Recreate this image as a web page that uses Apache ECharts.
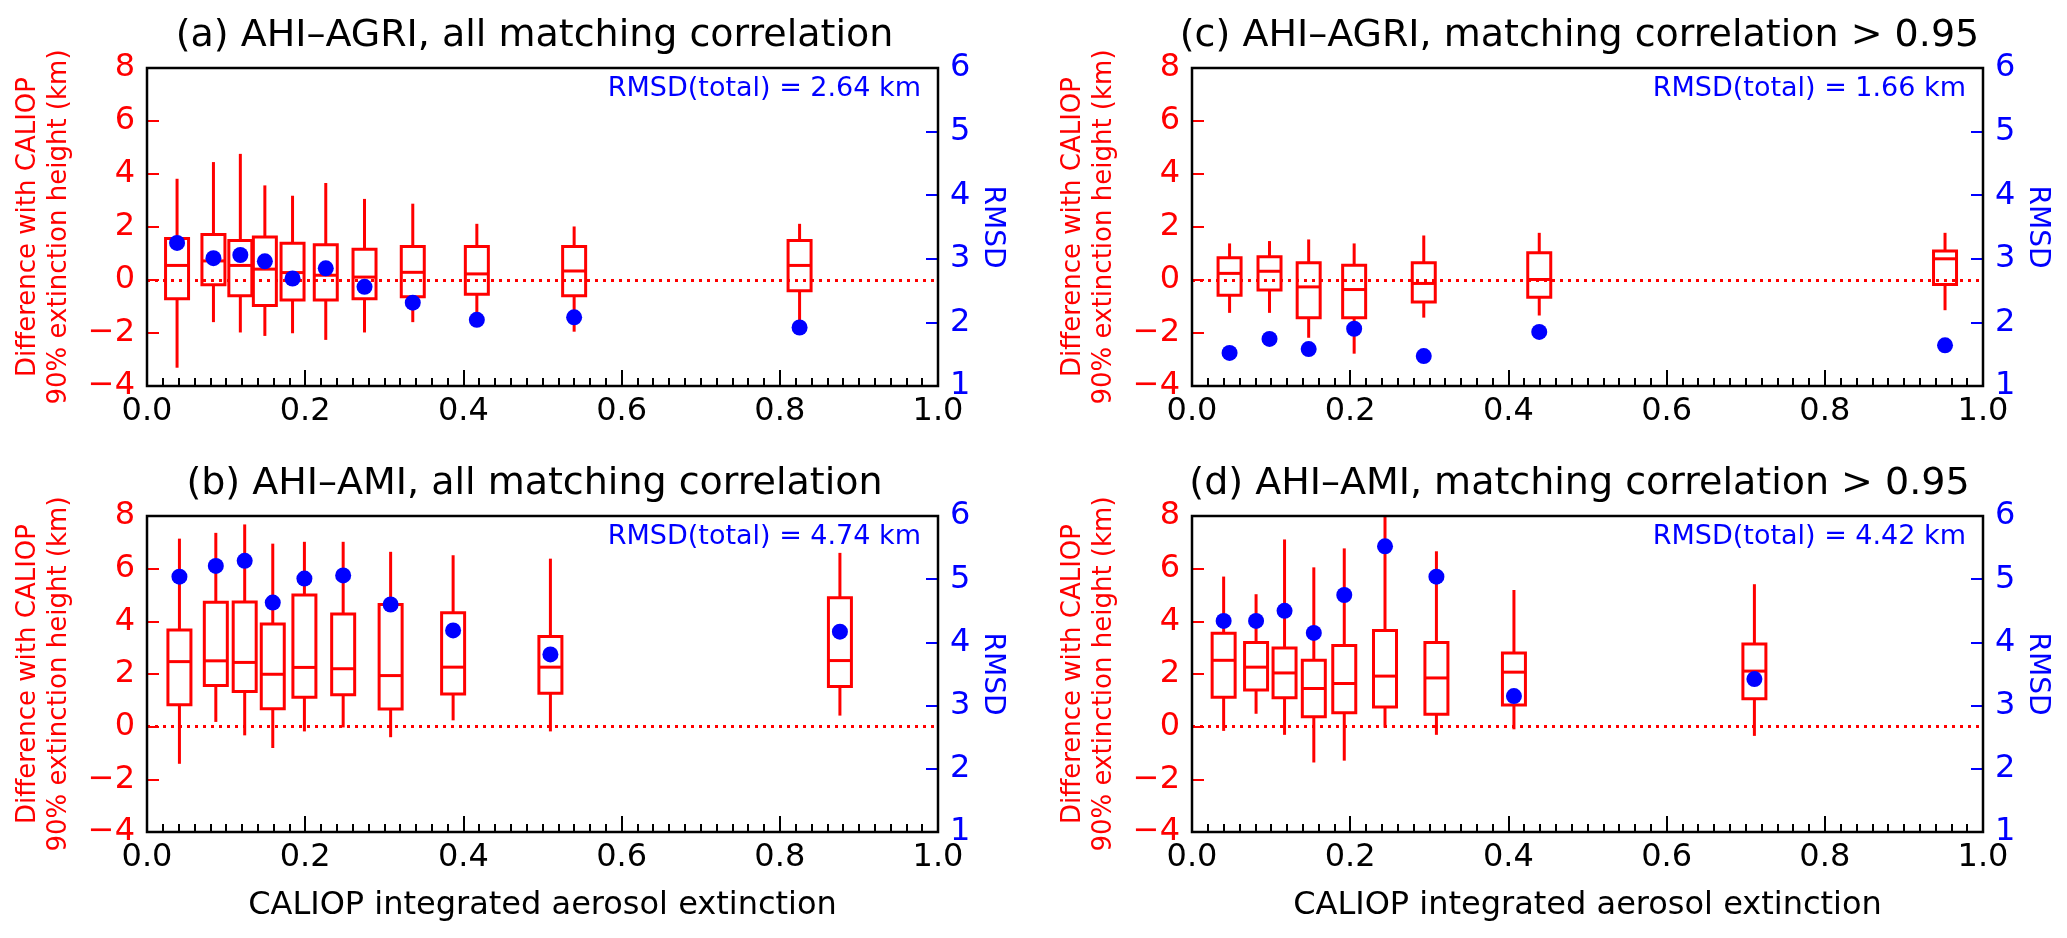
<!DOCTYPE html>
<html>
<head>
<meta charset="utf-8">
<title>AHI box plots vs CALIOP</title>
<script src="https://cdn.jsdelivr.net/npm/echarts@6.0.0/dist/echarts.min.js"></script>
<style>
  html, body { margin: 0; padding: 0; background: #fff; }
  #chart { width: 2067px; height: 938px; }
</style>
</head>
<body>
<div id="chart"></div>
<script>
// tick values (left: height difference km, right: RMSD, x: extinction)
const leftTicks = [-4, -2, 0, 2, 4, 6, 8]
const rightTicks = [1, 2, 3, 4, 5, 6]
const xTicks = [0.0, 0.2, 0.4, 0.6, 0.8, 1.0]

// (a) AHI-AGRI, all matching correlation
// box rows: [whisker low, Q1, median, Q3, whisker high]
const aX = [0.038, 0.084, 0.118, 0.149, 0.184, 0.226, 0.275, 0.336, 0.417, 0.540, 0.825]
const aBox = [
  [-3.31, -0.71, 0.55, 1.57, 3.82],
  [-1.59, -0.18, 0.72, 1.72, 4.45],
  [-1.98, -0.59, 0.55, 1.49, 4.76],
  [-2.11, -0.96, 0.41, 1.62, 3.57],
  [-2.01, -0.75, 0.28, 1.39, 3.18],
  [-2.26, -0.75, 0.18, 1.33, 3.66],
  [-1.98, -0.71, 0.11, 1.16, 3.06],
  [-1.59, -0.63, 0.29, 1.26, 2.88],
  [-1.50, -0.54, 0.23, 1.26, 2.12],
  [-1.95, -0.59, 0.34, 1.26, 2.02],
  [-1.60, -0.41, 0.55, 1.49, 2.12]
]
const aRmsd = [3.25, 3.01, 3.06, 2.96, 2.69, 2.85, 2.56, 2.31, 2.04, 2.08, 1.92]
const aTotal = 2.64

// (b) AHI-AMI, all matching correlation
const bX = [0.041, 0.087, 0.1235, 0.159, 0.199, 0.248, 0.308, 0.387, 0.510, 0.876]
const bBox = [
  [-1.41, 0.83, 2.47, 3.67, 7.14],
  [0.18, 1.56, 2.50, 4.72, 7.36],
  [-0.33, 1.34, 2.44, 4.73, 7.68],
  [-0.81, 0.68, 1.99, 3.90, 6.95],
  [-0.18, 1.12, 2.25, 5.00, 7.02],
  [-0.03, 1.21, 2.20, 4.28, 7.02],
  [-0.40, 0.67, 1.94, 4.64, 6.64],
  [0.24, 1.24, 2.26, 4.33, 6.51],
  [-0.18, 1.27, 2.26, 3.42, 6.38],
  [0.42, 1.53, 2.51, 4.90, 6.60]
]
const bRmsd = [5.04, 5.21, 5.29, 4.63, 5.01, 5.06, 4.60, 4.19, 3.81, 4.17]
const bTotal = 4.74

// (c) AHI-AGRI, matching correlation > 0.95
const cX = [0.0475, 0.098, 0.1475, 0.205, 0.293, 0.439, 0.952]
const cBox = [
  [-1.24, -0.58, 0.25, 0.84, 1.38],
  [-1.24, -0.38, 0.33, 0.88, 1.47],
  [-2.18, -1.42, -0.26, 0.65, 1.53],
  [-2.78, -1.42, -0.36, 0.56, 1.38],
  [-1.42, -0.83, -0.13, 0.65, 1.68],
  [-1.34, -0.65, 0.02, 1.03, 1.78],
  [-1.14, -0.17, 0.80, 1.09, 1.78]
]
const cRmsd = [1.52, 1.74, 1.58, 1.90, 1.47, 1.85, 1.64]
const cTotal = 1.66

// (d) AHI-AMI, matching correlation > 0.95
const dX = [0.040, 0.081, 0.117, 0.154, 0.1925, 0.244, 0.309, 0.407, 0.711]
const dBox = [
  [-0.16, 1.12, 2.52, 3.55, 5.70],
  [0.49, 1.39, 2.26, 3.20, 5.03],
  [-0.31, 1.10, 2.04, 2.99, 7.11],
  [-1.36, 0.38, 1.45, 2.52, 6.05],
  [-1.29, 0.53, 1.64, 3.08, 6.77],
  [-0.04, 0.75, 1.92, 3.65, 8.00],
  [-0.31, 0.47, 1.85, 3.20, 6.66],
  [-0.10, 0.82, 2.07, 2.80, 5.19],
  [-0.35, 1.06, 2.11, 3.14, 5.41]
]
const dRmsd = [4.34, 4.34, 4.50, 4.15, 4.75, 5.52, 5.04, 3.15, 3.42]
const dTotal = 4.42

const RED = '#ff0000'
const BLUE = '#0000ff'
const FONT = 'DejaVu Sans'
const BOX_W = 23

const panels = [
  { title: '(a) AHI\u2013AGRI, all matching correlation', x: aX, box: aBox, rmsd: aRmsd, total: aTotal, left: 147, top: 68, height: 318, bottomRow: false },
  { title: '(c) AHI\u2013AGRI, matching correlation > 0.95', x: cX, box: cBox, rmsd: cRmsd, total: cTotal, left: 1192, top: 68, height: 318, bottomRow: false },
  { title: '(b) AHI\u2013AMI, all matching correlation', x: bX, box: bBox, rmsd: bRmsd, total: bTotal, left: 147, top: 516, height: 316, bottomRow: true },
  { title: '(d) AHI\u2013AMI, matching correlation > 0.95', x: dX, box: dBox, rmsd: dRmsd, total: dTotal, left: 1192, top: 516, height: 316, bottomRow: true }
]
const W = 791

function minus(v) {
  return String(v).replace('-', '\u2212')
}

// box + whiskers without caps, like matplotlib
function renderBox(params, api) {
  const x = api.value(0)
  const lo = api.coord([x, api.value(1)])
  const q1 = api.coord([x, api.value(2)])
  const md = api.coord([x, api.value(3)])
  const q3 = api.coord([x, api.value(4)])
  const hi = api.coord([x, api.value(5)])
  const half = BOX_W / 2
  const style = { stroke: RED, lineWidth: 3, fill: 'none' }
  return {
    type: 'group',
    children: [
      { type: 'line', shape: { x1: lo[0], y1: lo[1], x2: q1[0], y2: q1[1] }, style: style },
      { type: 'line', shape: { x1: q3[0], y1: q3[1], x2: hi[0], y2: hi[1] }, style: style },
      { type: 'rect', shape: { x: q3[0] - half, y: q3[1], width: BOX_W, height: q1[1] - q3[1] }, style: style },
      { type: 'line', shape: { x1: md[0] - half, y1: md[1], x2: md[0] + half, y2: md[1] }, style: style }
    ]
  }
}

let grids = [], xAxes = [], yAxes = [], series = [], titles = []

panels.forEach(function (p, i) {
  // black frame drawn over everything
  grids.push({
    left: p.left, top: p.top, width: W, height: p.height, z: 10,
    show: true, borderColor: '#000', borderWidth: 2.5, backgroundColor: 'transparent'
  })

  xAxes.push({
    type: 'value', gridIndex: i, position: 'bottom',
    min: xTicks[0], max: xTicks[xTicks.length - 1], interval: xTicks[1] - xTicks[0],
    name: p.bottomRow ? 'CALIOP integrated aerosol extinction' : '',
    nameLocation: 'middle', nameGap: 58,
    nameTextStyle: { fontSize: 32, color: '#000', fontFamily: FONT },
    axisLine: { show: false, onZero: false },
    axisTick: { inside: true, length: 16, lineStyle: { color: '#000', width: 2 } },
    minorTick: { show: true, splitNumber: 10, length: 8, lineStyle: { color: '#000', width: 2 } },
    splitLine: { show: false },
    minorSplitLine: { show: false },
    axisLabel: { fontSize: 32, color: '#000', fontFamily: FONT, margin: 10, formatter: function (v) { return v.toFixed(1) } }
  })

  yAxes.push({
    type: 'value', gridIndex: i, position: 'left',
    min: leftTicks[0], max: leftTicks[leftTicks.length - 1], interval: leftTicks[1] - leftTicks[0],
    name: 'Difference with CALIOP\n90% extinction height (km)',
    nameLocation: 'middle', nameGap: 72,
    nameTextStyle: { fontSize: 26, lineHeight: 31, color: RED, fontFamily: FONT },
    axisLine: { show: false, onZero: false },
    axisTick: { inside: true, length: 12, lineStyle: { color: RED, width: 2 } },
    splitLine: { show: false },
    axisLabel: { fontSize: 32, color: RED, fontFamily: FONT, margin: 12, formatter: minus }
  })

  yAxes.push({
    type: 'value', gridIndex: i, position: 'right',
    min: rightTicks[0], max: rightTicks[rightTicks.length - 1], interval: rightTicks[1] - rightTicks[0],
    name: 'RMSD', nameLocation: 'middle', nameGap: 40, nameRotate: -90,
    nameTextStyle: { fontSize: 28, color: BLUE, fontFamily: FONT },
    axisLine: { show: false, onZero: false },
    axisTick: { inside: true, length: 12, lineStyle: { color: BLUE, width: 2 } },
    splitLine: { show: false },
    axisLabel: { fontSize: 32, color: BLUE, fontFamily: FONT, margin: 12 }
  })

  series.push({
    type: 'custom', xAxisIndex: i, yAxisIndex: i * 2,
    renderItem: renderBox, clip: true,
    encode: { x: 0, y: [1, 2, 3, 4, 5] },
    data: p.x.map(function (x, k) { return [x].concat(p.box[k]) }),
    markLine: {
      silent: true, symbol: 'none', label: { show: false },
      lineStyle: { color: RED, type: [3, 5], width: 3 },
      data: [{ yAxis: 0 }]
    },
    z: 2
  })

  series.push({
    type: 'scatter', xAxisIndex: i, yAxisIndex: i * 2 + 1,
    symbol: 'circle', symbolSize: 16,
    itemStyle: { color: BLUE, opacity: 1 },
    data: p.x.map(function (x, k) { return [x, p.rmsd[k]] }),
    z: 5
  })

  titles.push({
    text: p.title, left: p.left + W / 2 - 8, top: p.top - 51, padding: 0,
    textAlign: 'center', textVerticalAlign: 'top',
    textStyle: { fontSize: 38, fontWeight: 'normal', color: '#000', fontFamily: FONT }
  })
  titles.push({
    text: 'RMSD(total) = ' + p.total.toFixed(2) + ' km', left: p.left + W - 17, top: p.top + 7, padding: 0,
    textAlign: 'right', textVerticalAlign: 'top',
    textStyle: { fontSize: 27, fontWeight: 'normal', color: BLUE, fontFamily: FONT }
  })
})

let myChart = echarts.init(document.getElementById('chart'))
let option = {
  backgroundColor: '#fff',
  animation: false,
  title: titles,
  grid: grids,
  xAxis: xAxes,
  yAxis: yAxes,
  series: series
}
myChart.setOption(option)
</script>
</body>
</html>
